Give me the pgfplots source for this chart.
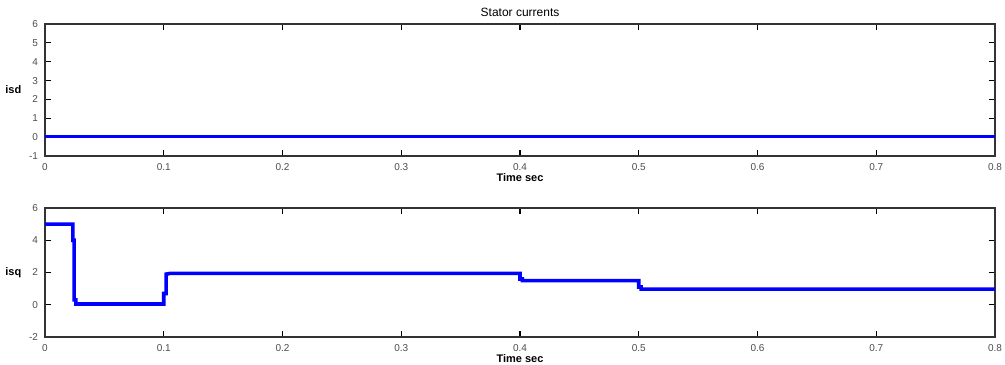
\documentclass[border=0pt]{standalone}
\usepackage{pgfplots}
\pgfplotsset{compat=1.18}
\usepackage{fontspec}
\setmainfont{Liberation Sans}
\begin{document}
\begin{tikzpicture}
\path[use as bounding box] (0,0) rectangle (502.5pt,-182pt);
\pgfplotsset{
  every axis/.append style={
    scale only axis, width=475pt,
    xmin=0, xmax=0.8,
    xtick={0,0.1,...,0.8},
    tick align=inside, major tick length=3pt,
    tick style={black, line width=0.6pt},
    axis line style={black!80, line width=0.6pt},
    tick label style={font=\fontsize{5}{6}\selectfont, text=black!70},
    label style={font=\fontsize{5.5}{6}\selectfont\bfseries},
    xticklabel style={/pgf/number format/fixed, /pgf/number format/precision=1},
    /pgf/number format/assume math mode=true,
    xlabel={Time sec},
    xlabel style={yshift=5pt},
    ylabel style={rotate=-90, xshift=3pt},
    scaled x ticks=false,
  }
}
\begin{axis}[at={(22.5pt,-12pt)}, anchor=north west, height=66pt,
  ymin=-1, ymax=6, ytick={-1,0,...,6},
  title={Stator currents}, title style={font=\fontsize{6}{7}\selectfont, yshift=-6pt},
  ylabel={isd}]
\addplot[blue, line width=1.8pt] coordinates {(0,0.03) (0.8,0.03)};
\end{axis}
\begin{axis}[at={(22.5pt,-104pt)}, anchor=north west, height=64.5pt,
  ymin=-2, ymax=6, ytick={-2,0,2,4,6},
  ylabel={isq}]
\addplot[blue, line width=1.8pt] coordinates {
(0,5) (0.0235,5) (0.0235,4) (0.0245,4) (0.0245,0.3) (0.026,0.3) (0.026,0.05)
(0.1,0.05) (0.1,0.7) (0.102,0.7) (0.102,1.9) (0.106,1.95) (0.4,1.95)
(0.4,1.6) (0.402,1.6) (0.402,1.5) (0.5,1.5) (0.5,1.1) (0.502,1.1) (0.502,0.97) (0.8,0.97)};
\end{axis}
\end{tikzpicture}
\end{document}
